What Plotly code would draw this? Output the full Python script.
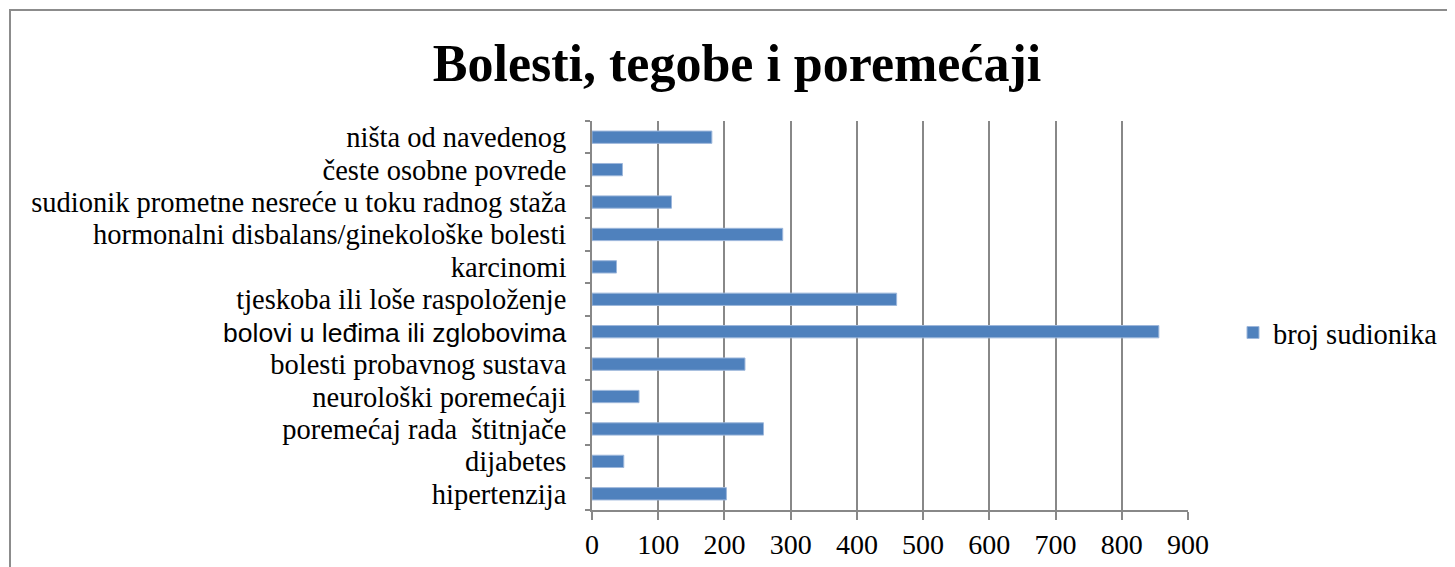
import plotly.graph_objects as go

categories = [
    "hipertenzija",
    "dijabetes",
    "poremećaj rada  štitnjače",
    "neurološki poremećaji",
    "bolesti probavnog sustava",
    "bolovi u leđima ili zglobovima",
    "tjeskoba ili loše raspoloženje",
    "karcinomi",
    "hormonalni disbalans/ginekološke bolesti",
    "sudionik prometne nesreće u toku radnog staža",
    "česte osobne povrede",
    "ništa od navedenog",
]
values = [203, 48, 259, 71, 231, 856, 460, 37, 288, 120, 46, 181]
series_name = "broj sudionika"
title_text = "Bolesti, tegobe i poremećaji"
x_ticks = [0, 100, 200, 300, 400, 500, 600, 700, 800, 900]

SERIF = "Liberation Serif, Times New Roman, serif"
SANS = "Liberation Sans, Arial, sans-serif"

ticktext = []
for c in categories:
    if c == "bolovi u leđima ili zglobovima":
        ticktext.append(f"<span style='font-family:{SANS};font-size:26.5px'>{c}</span>")
    else:
        ticktext.append(c)

fig = go.Figure()
fig.add_trace(go.Bar(
    y=categories,
    x=values,
    orientation="h",
    name=series_name,
    marker=dict(color="#4F81BD", line=dict(color="#9DB7DB", width=1)),
    showlegend=True,
))

# page body has an 8px margin; figure offset compensates
OFF = 8
W, H = 1455 - OFF, 567 - OFF
top_px, bottom_px, left_px, right_px = 121, 510, 592, 1188
L, R, T, B = left_px - OFF, W + OFF - right_px, top_px - OFF, H + OFF - bottom_px
pw = W - L - R
ph = H - T - B

fig.update_layout(
    width=W, height=H,
    autosize=False,
    margin=dict(l=L, r=R, t=T, b=B, pad=0, autoexpand=False),
    paper_bgcolor="white",
    plot_bgcolor="white",
    bargap=0.62,
    title=dict(
        text=f"<b>{title_text}</b>",
        font=dict(family=SERIF, size=52, color="black"),
        x=(737 - OFF) / W, xanchor="center",
        y=1 - (63 - OFF) / H, yanchor="middle",
    ),
    font=dict(family=SERIF, size=28.5, color="black"),
    legend=dict(
        x=(1233 - left_px) / pw, xanchor="left",
        y=(bottom_px - 333) / ph, yanchor="middle",
        font=dict(family=SERIF, size=28.5, color="black"),
        bgcolor="rgba(0,0,0,0)",
        itemwidth=30,
    ),
    xaxis=dict(
        range=[0, 900],
        tickvals=x_ticks,
        ticktext=[str(v) for v in x_ticks],
        showgrid=True, gridcolor="#888888", gridwidth=2,
        showline=True, linecolor="#888888", linewidth=2,
        ticks="outside", ticklen=8, tickwidth=2, tickcolor="#888888",
        tickfont=dict(family=SERIF, size=28, color="black"),
        zeroline=False, automargin=False,
        fixedrange=True,
    ),
    yaxis=dict(
        categoryorder="array", categoryarray=categories,
        tickvals=categories, ticktext=ticktext,
        showgrid=False,
        showline=True, linecolor="#888888", linewidth=2,
        ticks="outside", tickson="boundaries", ticklen=5, tickwidth=2, tickcolor="#888888",
        tickfont=dict(family=SERIF, size=28.5, color="black"),
        ticklabelstandoff=18, automargin=False,
        fixedrange=True,
    ),
    shapes=[dict(
        type="rect", xref="paper", yref="paper",
        x0=(10 - left_px) / pw, x1=(1480 - left_px) / pw,
        y0=(bottom_px - 600) / ph, y1=(bottom_px - 10) / ph,
        line=dict(color="#8C8C8C", width=2),
        fillcolor="rgba(0,0,0,0)",
        layer="below",
    )],
)

fig.write_html("out.html")
